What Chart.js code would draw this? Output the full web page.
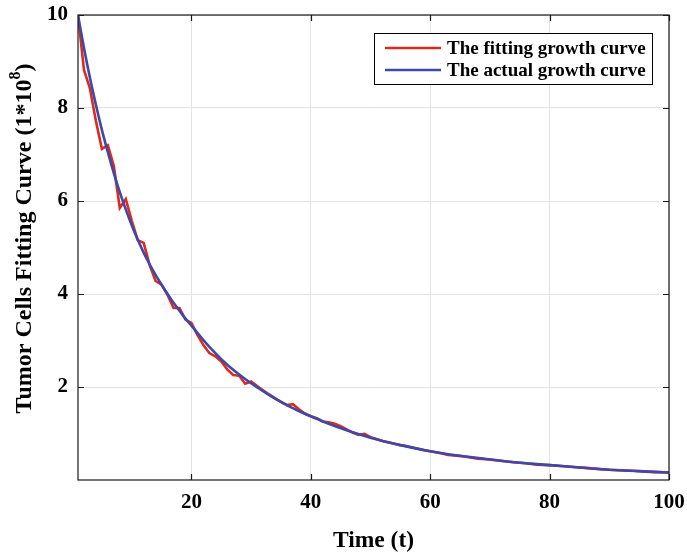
<!DOCTYPE html>
<html>
<head>
<meta charset="utf-8">
<script src="https://cdn.jsdelivr.net/npm/chart.js@4"></script>
<style>
  html, body { margin: 0; padding: 0; background: #fff; }
</style>
</head>
<body>
<canvas id="c" width="687" height="559"></canvas>
<script>
// fitted curve (red)
const FIT_X = [1, 2, 3, 4, 5, 6, 7, 8, 9, 10, 11, 12, 13, 14, 15, 16, 17, 18, 19, 20,
  21, 22, 23, 24, 25, 26, 27, 28, 29, 30, 31, 32, 33, 34, 35, 36, 37, 38, 39, 40,
  41, 42, 43, 44, 45, 46, 47, 48, 49, 50, 51, 52, 53, 54, 55, 56, 57, 58, 59, 60,
  62, 63, 64, 66, 68, 70, 72, 74, 76, 78, 80, 82, 84, 86, 88, 90, 92, 94, 96, 98, 100];
const FIT_Y = [10, 8.82, 8.42, 7.72, 7.12, 7.2, 6.75, 5.85, 6.04, 5.58, 5.16, 5.1, 4.62, 4.28, 4.2, 3.98, 3.7, 3.7, 3.45, 3.38,
  3.12, 2.9, 2.73, 2.66, 2.55, 2.38, 2.26, 2.24, 2.07, 2.12, 2.02, 1.93, 1.84, 1.76, 1.68, 1.61, 1.63, 1.52, 1.43, 1.37,
  1.33, 1.26, 1.24, 1.21, 1.16, 1.09, 1.02, 0.97, 0.99, 0.92, 0.88, 0.84, 0.81, 0.78, 0.75, 0.73, 0.7, 0.67, 0.64, 0.62,
  0.57, 0.54, 0.53, 0.5, 0.46, 0.44, 0.41, 0.38, 0.36, 0.33, 0.32, 0.3, 0.28, 0.26, 0.24, 0.22, 0.21, 0.2, 0.18, 0.17, 0.16];

// actual curve (blue)
const ACT_X = [1, 2, 3, 4, 5, 6, 7, 8, 9, 10, 11, 12, 13, 14, 15, 16, 17, 18, 19, 20,
  22, 24, 26, 28, 30, 32, 34, 36, 38, 40, 43, 46, 50, 55, 60, 65, 70, 75, 80, 85, 90, 95, 100];
const ACT_Y = [10, 9.29, 8.65, 8.07, 7.53, 7.05, 6.6, 6.19, 5.82, 5.48, 5.17, 4.89, 4.64, 4.41, 4.2, 4.0, 3.81, 3.64, 3.47, 3.32,
  3.01, 2.73, 2.48, 2.27, 2.08, 1.91, 1.75, 1.61, 1.48, 1.37, 1.21, 1.07, 0.91, 0.75, 0.62, 0.52, 0.44, 0.37, 0.32, 0.27, 0.22, 0.19, 0.16];

const X_TICKS = [20, 40, 60, 80, 100];
const Y_TICKS = [2, 4, 6, 8, 10];
const LEGEND = ["The fitting growth curve", "The actual growth curve"];
const RED = "#dd2a1e";
const BLUE = "#3f48a8";
const FONT = "'Liberation Serif', 'Times New Roman', serif";

const pts = (xs, ys) => xs.map((x, i) => ({ x, y: ys[i] }));

// box, inward ticks, legend and axis titles
const frame = {
  id: "frame",
  afterDraw(chart) {
    const { ctx, chartArea: a, scales: { x, y } } = chart;
    ctx.save();
    ctx.strokeStyle = "#1a1a1a";
    ctx.lineWidth = 1.2;
    ctx.strokeRect(a.left, a.top, a.right - a.left, a.bottom - a.top);
    ctx.beginPath();
    X_TICKS.forEach((v) => {
      const px = Math.round(x.getPixelForValue(v)) + 0.5;
      ctx.moveTo(px, a.bottom); ctx.lineTo(px, a.bottom - 6);
      ctx.moveTo(px, a.top); ctx.lineTo(px, a.top + 6);
    });
    Y_TICKS.forEach((v) => {
      const py = Math.round(y.getPixelForValue(v)) + 0.5;
      ctx.moveTo(a.left, py); ctx.lineTo(a.left + 6, py);
      ctx.moveTo(a.right, py); ctx.lineTo(a.right - 6, py);
    });
    ctx.stroke();

    // legend
    const lx = 374, ly = 33, lw = 278, lh = 51;
    ctx.fillStyle = "#fff";
    ctx.fillRect(lx, ly, lw, lh);
    ctx.strokeStyle = "#000";
    ctx.lineWidth = 1;
    ctx.strokeRect(lx + 0.5, ly + 0.5, lw, lh);
    ctx.font = "bold 19px " + FONT;
    ctx.textBaseline = "middle";
    ctx.textAlign = "left";
    [RED, BLUE].forEach((c, i) => {
      const ry = ly + 15 + i * 22;
      ctx.strokeStyle = c;
      ctx.lineWidth = 2.5;
      ctx.beginPath(); ctx.moveTo(385, ry); ctx.lineTo(441, ry); ctx.stroke();
      ctx.fillStyle = "#000";
      ctx.fillText(LEGEND[i], 447, ry + 1);
    });

    // x title
    ctx.font = "bold 23.5px " + FONT;
    ctx.textAlign = "center";
    ctx.fillText("Time (t)", (a.left + a.right) / 2, 541);

    // y title with superscript
    const main = "Tumor Cells Fitting Curve (1*10";
    ctx.font = "bold 24px " + FONT;
    const w1 = ctx.measureText(main).width;
    const w3 = ctx.measureText(")").width;
    ctx.font = "bold 16px " + FONT;
    const w2 = ctx.measureText("8").width;
    const total = w1 + w2 + w3;
    ctx.translate(25, (a.top + a.bottom) / 2 - 9);
    ctx.rotate(-Math.PI / 2);
    ctx.textAlign = "left";
    ctx.font = "bold 24px " + FONT;
    ctx.fillText(main, -total / 2, 0);
    ctx.font = "bold 16px " + FONT;
    ctx.fillText("8", -total / 2 + w1, -9);
    ctx.font = "bold 24px " + FONT;
    ctx.fillText(")", -total / 2 + w1 + w2, 0);
    ctx.restore();
  },
};

new Chart(document.getElementById("c"), {
  type: "line",
  data: {
    datasets: [
      { label: "actual", data: pts(ACT_X, ACT_Y), borderColor: BLUE, borderWidth: 2.6, pointRadius: 0, cubicInterpolationMode: "monotone" },
      { label: "fitting", data: pts(FIT_X, FIT_Y), borderColor: RED, borderWidth: 2.6, pointRadius: 0, tension: 0 },
    ],
  },
  options: {
    responsive: false,
    devicePixelRatio: 1,
    animation: false,
    layout: { padding: { left: 0, top: 15, right: 18, bottom: 0 } },
    plugins: { legend: { display: false }, tooltip: { enabled: false } },
    scales: {
      x: {
        type: "linear",
        min: 1,
        max: 100,
        afterBuildTicks: (s) => { s.ticks = X_TICKS.map((v) => ({ value: v })); },
        afterFit: (s) => { s.height = 79; s.paddingLeft = 0; s.paddingRight = 0; },
        grid: { color: "#e3e3e3", drawTicks: false },
        border: { display: false },
        ticks: { color: "#000", padding: 10, maxRotation: 0, font: { family: FONT, size: 21, weight: "bold" } },
      },
      y: {
        min: 0,
        max: 10,
        afterBuildTicks: (s) => { s.ticks = Y_TICKS.map((v) => ({ value: v })); },
        afterFit: (s) => { s.width = 78; s.paddingTop = 0; s.paddingBottom = 0; },
        grid: { color: "#e3e3e3", drawTicks: false },
        border: { display: false },
        ticks: { color: "#000", padding: 10, font: { family: FONT, size: 21, weight: "bold" } },
      },
    },
  },
  plugins: [frame],
});
</script>
</body>
</html>
